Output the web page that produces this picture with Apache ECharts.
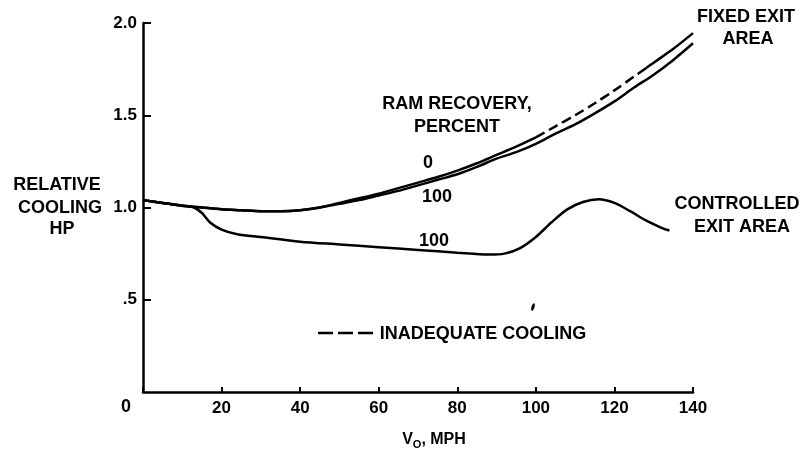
<!DOCTYPE html>
<html>
<head>
<meta charset="utf-8">
<script src="https://cdn.jsdelivr.net/npm/echarts@6/dist/echarts.min.js"></script>
<style>
  html, body { margin: 0; padding: 0; background: #fff; }
  #chart { width: 809px; height: 451px; }
</style>
</head>
<body>
<div id="chart"></div>
<script>
// fixed exit area, ram recovery 100 percent
var fixedSpeed100 = [0, 5, 10, 15, 20, 25, 30, 35, 40, 45, 50, 55, 60, 65, 70, 75, 80, 85, 90, 95, 100, 105, 110, 115, 120, 125, 130, 135, 140];
var fixedHp100 = [1.04, 1.025, 1.01, 1.0, 0.99, 0.985, 0.98, 0.98, 0.985, 1.0, 1.02, 1.04, 1.065, 1.09, 1.12, 1.15, 1.18, 1.22, 1.265, 1.3, 1.345, 1.4, 1.45, 1.51, 1.575, 1.65, 1.72, 1.8, 1.89];
// fixed exit area, ram recovery 0 percent
var fixedSpeed0 = [0, 5, 10, 15, 20, 25, 30, 35, 40, 45, 50, 55, 60, 65, 70, 75, 80, 85, 90, 95, 100, 105, 110, 115, 120, 125, 128, 130, 135, 140];
var fixedHp0 = [1.04, 1.025, 1.01, 1.0, 0.99, 0.985, 0.98, 0.98, 0.985, 1.0, 1.025, 1.05, 1.075, 1.105, 1.135, 1.165, 1.2, 1.24, 1.285, 1.33, 1.38, 1.44, 1.5, 1.565, 1.635, 1.71, 1.755, 1.785, 1.86, 1.945];
// inadequate cooling (dashed) between these speeds
var inadequateFrom = 100;
var inadequateTo = 128;
// controlled exit area, ram recovery 100 percent
var ctrlSpeed = [0, 5, 10, 13, 15, 17, 20, 24, 30, 40, 50, 60, 70, 80, 88, 92, 96, 100, 104, 108, 112, 116, 120, 124, 128, 132, 134];
var ctrlHp = [1.04, 1.025, 1.01, 1.0, 0.97, 0.92, 0.88, 0.855, 0.84, 0.815, 0.8, 0.785, 0.77, 0.755, 0.745, 0.75, 0.78, 0.84, 0.92, 0.99, 1.03, 1.045, 1.025, 0.98, 0.93, 0.89, 0.875];

var yTickLabels = {'0.5': '.5', '1': '1.0', '1.5': '1.5', '2': '2.0'};

var FONT = '"Liberation Sans", Arial, sans-serif';

function pairs(xs, ys, test) {
	return xs.map(function (x, i) {
		return [x, test(x) ? ys[i] : null];
	});
}

var myChart = echarts.init(document.getElementById('chart'));

var lineBase = {
	type: 'line',
	showSymbol: false,
	smooth: 0.3,
	animation: false,
	connectNulls: false
};

var option = {
	backgroundColor: '#fff',
	grid: {left: 143, right: 116, top: 23, bottom: 59, containLabel: false, outerBoundsMode: 'none'},
	xAxis: {
		type: 'value',
		min: 0, max: 140, interval: 20,
		splitLine: {show: false},
		axisLine: {lineStyle: {color: '#000', width: 2.5}},
		axisTick: {inside: true, length: 5, lineStyle: {color: '#000', width: 2}},
		axisLabel: {
			color: '#000', fontFamily: FONT, fontWeight: 'bold', fontSize: 17, margin: 8,
			formatter: function (v) { return v === 0 ? '' : String(v); }
		},
		name: 'V{sub|O}, MPH',
		nameLocation: 'middle',
		nameGap: 38,
		nameTextStyle: {
			color: '#000', fontFamily: FONT, fontWeight: 'bold', fontSize: 16,
			padding: [0, 0, 0, 32],
			rich: {sub: {fontSize: 11, fontWeight: 'bold', fontFamily: FONT, verticalAlign: 'bottom', padding: [9, 0, 0, 0]}}
		}
	},
	yAxis: {
		type: 'value',
		min: 0, max: 2, interval: 0.5,
		splitLine: {show: false},
		axisLine: {lineStyle: {color: '#000', width: 2.5}},
		axisTick: {inside: true, length: 8, lineStyle: {color: '#000', width: 2}},
		axisLabel: {
			color: '#000', fontFamily: FONT, fontWeight: 'bold', fontSize: 17, margin: 6,
			showMinLabel: false,
			formatter: function (v) { return yTickLabels[String(v)] || ''; }
		}
	},
	series: [
		Object.assign({}, lineBase, {
			name: 'fixed 100',
			data: pairs(fixedSpeed100, fixedHp100, function () { return true; }),
			lineStyle: {color: '#000', width: 2.5}
		}),
		Object.assign({}, lineBase, {
			name: 'fixed 0',
			data: pairs(fixedSpeed0, fixedHp0, function (x) { return x <= inadequateFrom || x >= inadequateTo; }),
			lineStyle: {color: '#000', width: 2.5}
		}),
		Object.assign({}, lineBase, {
			name: 'fixed 0 inadequate',
			data: pairs(fixedSpeed0, fixedHp0, function (x) { return x >= inadequateFrom && x <= inadequateTo; }),
			lineStyle: {color: '#000', width: 2.5, type: [10, 5]}
		}),
		Object.assign({}, lineBase, {
			name: 'controlled 100',
			data: pairs(ctrlSpeed, ctrlHp, function () { return true; }),
			lineStyle: {color: '#000', width: 2.5}
		})
	],
	graphic: [
		txt('RELATIVE', 57, 185),
		txt('COOLING', 60, 208),
		txt('HP', 62, 229),
		txt('RAM RECOVERY,', 457, 104),
		txt('PERCENT', 457, 127),
		txt('0', 428, 163),
		txt('100', 437, 197),
		txt('100', 434, 241),
		txt('FIXED EXIT', 746, 17),
		txt('AREA', 748, 39),
		txt('CONTROLLED', 737, 204),
		txt('EXIT AREA', 742, 227),
		txt('INADEQUATE COOLING', 483, 334),
		txt('0', 126, 407),
		{
			type: 'line',
			shape: {x1: 318, y1: 333, x2: 377, y2: 333},
			style: {stroke: '#000', lineWidth: 2.5, lineDash: [15, 5]}
		},
		{
			type: 'ellipse',
			shape: {cx: 533, cy: 307, rx: 1.5, ry: 4},
			rotation: -0.3,
			originX: 533, originY: 307,
			style: {fill: '#000'}
		}
	]
};

function txt(s, x, y) {
	return {
		type: 'text',
		x: x, y: y,
		style: {
			text: s, fill: '#000',
			font: 'bold 18px ' + FONT,
			align: 'center', verticalAlign: 'middle'
		}
	};
}

myChart.setOption(option);
</script>
</body>
</html>
